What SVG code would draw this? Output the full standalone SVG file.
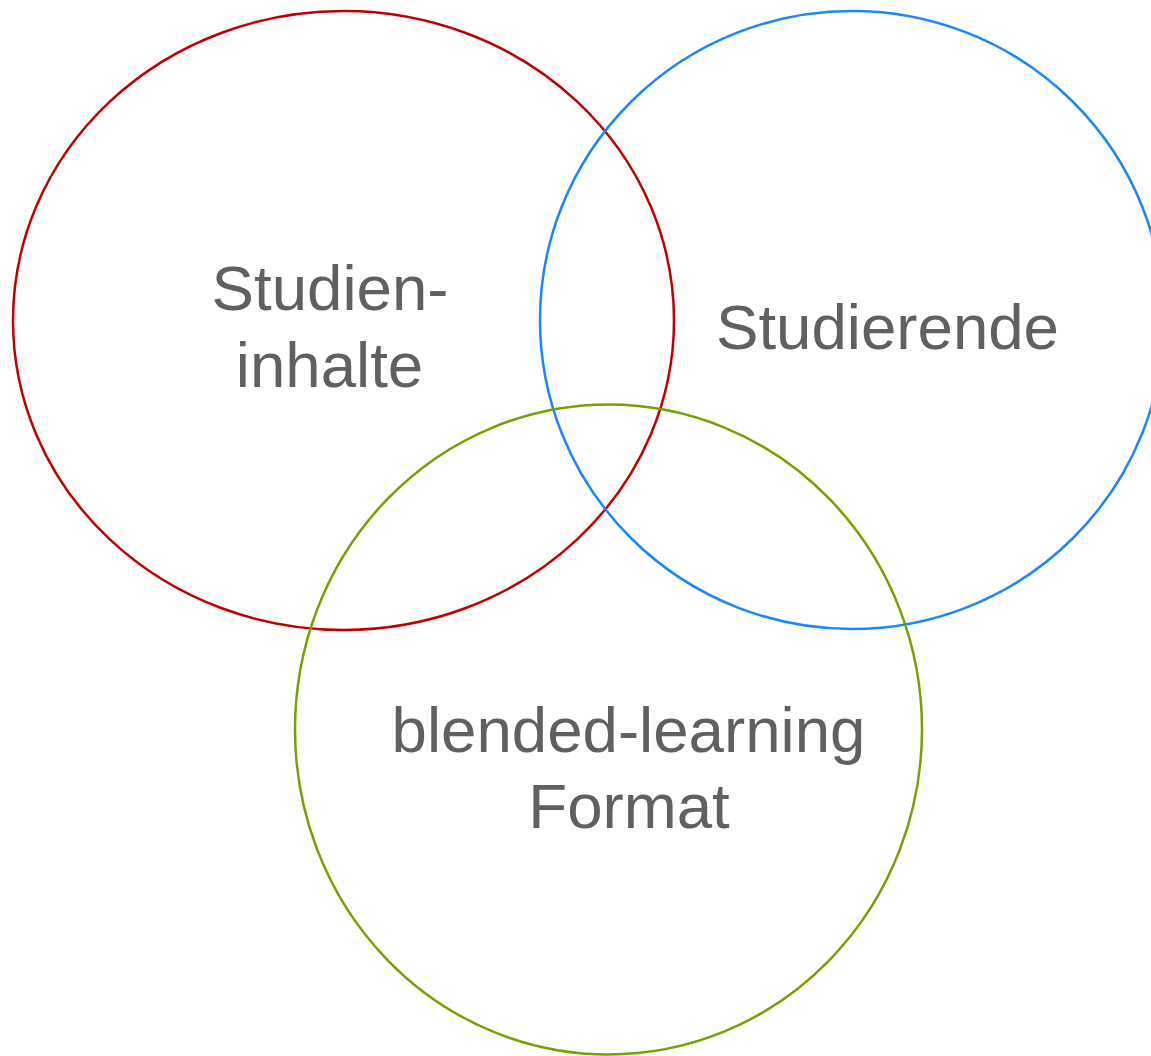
<svg xmlns="http://www.w3.org/2000/svg" width="1151" height="1056" viewBox="0 0 1151 1056">
<style>
.c{fill:none;stroke-width:2.5}
.t{font-family:"Liberation Sans",Arial,sans-serif;font-size:63.6px;fill:#606060;text-anchor:middle}
</style>
<rect width="1151" height="1056" fill="#ffffff"/>
<g id="studieninhalte">
<ellipse class="c" cx="343.5" cy="320.5" rx="330.5" ry="309.5" stroke="#C00000"/>
<text class="t" x="330" y="310">Studien-</text>
<text class="t" x="329.5" y="387">inhalte</text>
</g>
<g id="studierende">
<ellipse class="c" cx="852" cy="320" rx="312" ry="309" stroke="#1A86FF"/>
<text class="t" x="887.5" y="349">Studierende</text>
</g>
<g id="format">
<ellipse class="c" cx="608.5" cy="729.5" rx="313.5" ry="325" stroke="#77A000"/>
<text class="t" x="628.5" y="752">blended-learning</text>
<text class="t" x="629" y="828">Format</text>
</g>
<g id="connectors"/>
</svg>
